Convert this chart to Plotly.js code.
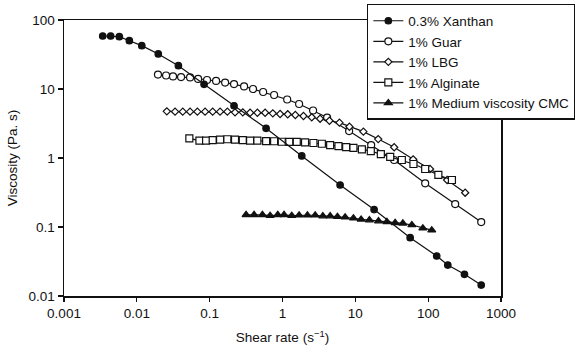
<!DOCTYPE html>
<html>
<head>
<meta charset="utf-8">
<script src="https://cdn.plot.ly/plotly-3.0.1.min.js"></script>
<style>html,body{margin:0;padding:0;background:#fff;}#chart{width:575px;height:355px;}</style>
</head>
<body>
<div id="chart"></div>
<script>
// Shear rate (1/s) and viscosity (Pa.s)
const xanthanX = [0.0034, 0.00437, 0.00575, 0.00789, 0.0117, 0.0197, 0.0372, 0.0838, 0.216, 0.595, 1.84, 6.18, 18.1, 56.6, 131, 186, 315, 535];
const xanthanY = [58.6, 58.6, 57.3, 50.1, 42.5, 32.2, 21.8, 11.7, 5.72, 2.69, 1.07, 0.406, 0.179, 0.070, 0.038, 0.0281, 0.0206, 0.0144];

const guarX = [0.0195, 0.0252, 0.0314, 0.0405, 0.0538, 0.0694, 0.092, 0.1225, 0.163, 0.216, 0.297, 0.394, 0.542, 0.767, 1.16, 1.69, 2.63, 4.10, 8.22, 16.5, 34.1, 91, 235, 535];
const guarY = [16.2, 15.7, 15.2, 14.9, 14.7, 14.0, 13.5, 13.1, 12.4, 11.8, 10.9, 10.0, 9.05, 8.18, 7.04, 6.06, 4.88, 3.86, 2.46, 1.54, 0.935, 0.430, 0.215, 0.118];

const lbgX = [0.0258, 0.0335, 0.0427, 0.0538, 0.0678, 0.0865, 0.110, 0.139, 0.175, 0.223, 0.285, 0.359, 0.452, 0.577, 0.736, 0.927, 1.18, 1.50, 1.94, 2.52, 3.28, 4.41, 6.05, 8.30, 12.9, 20.6, 34.1, 62.2, 106, 182, 322];
const lbgY = [4.75, 4.69, 4.69, 4.69, 4.69, 4.69, 4.69, 4.69, 4.69, 4.59, 4.59, 4.53, 4.53, 4.53, 4.44, 4.34, 4.30, 4.20, 4.06, 3.89, 3.71, 3.47, 3.25, 2.84, 2.41, 1.88, 1.43, 0.957, 0.693, 0.480, 0.314];

const alginateX = [0.0526, 0.0723, 0.0893, 0.110, 0.139, 0.175, 0.223, 0.285, 0.359, 0.452, 0.596, 0.767, 0.977, 1.24, 1.57, 2.04, 2.66, 3.47, 4.51, 5.86, 7.48, 9.42, 12.3, 16.3, 22.4, 30.1, 43.5, 62.8, 91, 138, 212];
const alginateY = [1.92, 1.79, 1.79, 1.81, 1.85, 1.87, 1.85, 1.81, 1.79, 1.78, 1.76, 1.75, 1.72, 1.71, 1.71, 1.69, 1.65, 1.61, 1.54, 1.49, 1.44, 1.40, 1.33, 1.26, 1.14, 1.04, 0.935, 0.819, 0.693, 0.568, 0.480];

const cmcX = [0.316, 0.407, 0.530, 0.676, 0.861, 1.05, 1.34, 1.69, 2.20, 2.81, 3.58, 4.51, 5.68, 7.24, 9.42, 12.0, 15.6, 20.8, 27.1, 35.2, 44.9, 59.7, 84.5, 112];
const cmcY = [0.150, 0.150, 0.150, 0.146, 0.150, 0.150, 0.146, 0.148, 0.148, 0.148, 0.144, 0.144, 0.141, 0.139, 0.134, 0.129, 0.126, 0.122, 0.119, 0.115, 0.113, 0.107, 0.096, 0.090];

const seriesNames = ['0.3% Xanthan', '1% Guar', '1% LBG', '1% Alginate', '1% Medium viscosity CMC'];
const xTickVals = [0.001, 0.01, 0.1, 1, 10, 100, 1000];
const xTickText = ['0.001', '0.01', '0.1', '1', '10', '100', '1000'];
const yTickVals = [0.01, 0.1, 1, 10, 100];
const yTickText = ['0.01', '0.1', '1', '10', '100'];

const FONT = 'Liberation Sans, Arial, sans-serif';
const lineStyle = {color: '#111', width: 1.2};

function tr(x, y, name, symbol, fill, size, rank) {
  return {
    x: x, y: y, name: name, type: 'scatter', mode: 'lines+markers',
    legendrank: rank,
    line: lineStyle,
    marker: {symbol: symbol, size: size, color: fill, line: {color: '#111', width: 1.2}}
  };
}

const data = [
  tr(guarX, guarY, seriesNames[1], 'circle', '#fff', 7, 2),
  tr(lbgX, lbgY, seriesNames[2], 'diamond', '#fff', 5.5, 3),
  tr(alginateX, alginateY, seriesNames[3], 'square', '#fff', 7, 4),
  tr(cmcX, cmcY, seriesNames[4], 'triangle-up', '#111', 7, 5),
  tr(xanthanX, xanthanY, seriesNames[0], 'circle', '#111', 6.5, 1)
];

const layout = {
  width: 575, height: 355,
  margin: {l: 64, r: 74, t: 20, b: 59, autoexpand: false},
  paper_bgcolor: '#fff', plot_bgcolor: '#fff',
  font: {family: FONT, size: 13.5, color: '#111'},
  showlegend: true,
  legend: {
    x: 0.693, xanchor: 'left', y: 1.058, yanchor: 'top',
    bgcolor: '#fff', bordercolor: '#111', borderwidth: 1.5,
    font: {family: FONT, size: 13.5, color: '#111'},
    traceorder: 'normal'
  },
  xaxis: {
    type: 'log', range: [-3, 3],
    tickmode: 'array', tickvals: xTickVals, ticktext: xTickText,
    ticks: 'outside', ticklen: 4, tickwidth: 1.2, tickcolor: '#111',
    showline: true, linecolor: '#111', linewidth: 1.5, mirror: true,
    showgrid: false, zeroline: false,
    ticklabelstandoff: 0,
    title: {text: 'Shear rate (s<sup>\u22121</sup>)', font: {family: FONT, size: 13.5, color: '#111'}, standoff: 13}
  },
  yaxis: {
    type: 'log', range: [-2, 2],
    tickmode: 'array', tickvals: yTickVals, ticktext: yTickText,
    ticks: 'outside', ticklen: 5, tickwidth: 1.2, tickcolor: '#111',
    showline: true, linecolor: '#111', linewidth: 1.5, mirror: true,
    showgrid: false, zeroline: false,
    title: {text: 'Viscosity (Pa. s)', font: {family: FONT, size: 13.5, color: '#111'}, standoff: 8}
  }
};

Plotly.newPlot('chart', data, layout, {staticPlot: true, displayModeBar: false});
</script>
</body>
</html>
